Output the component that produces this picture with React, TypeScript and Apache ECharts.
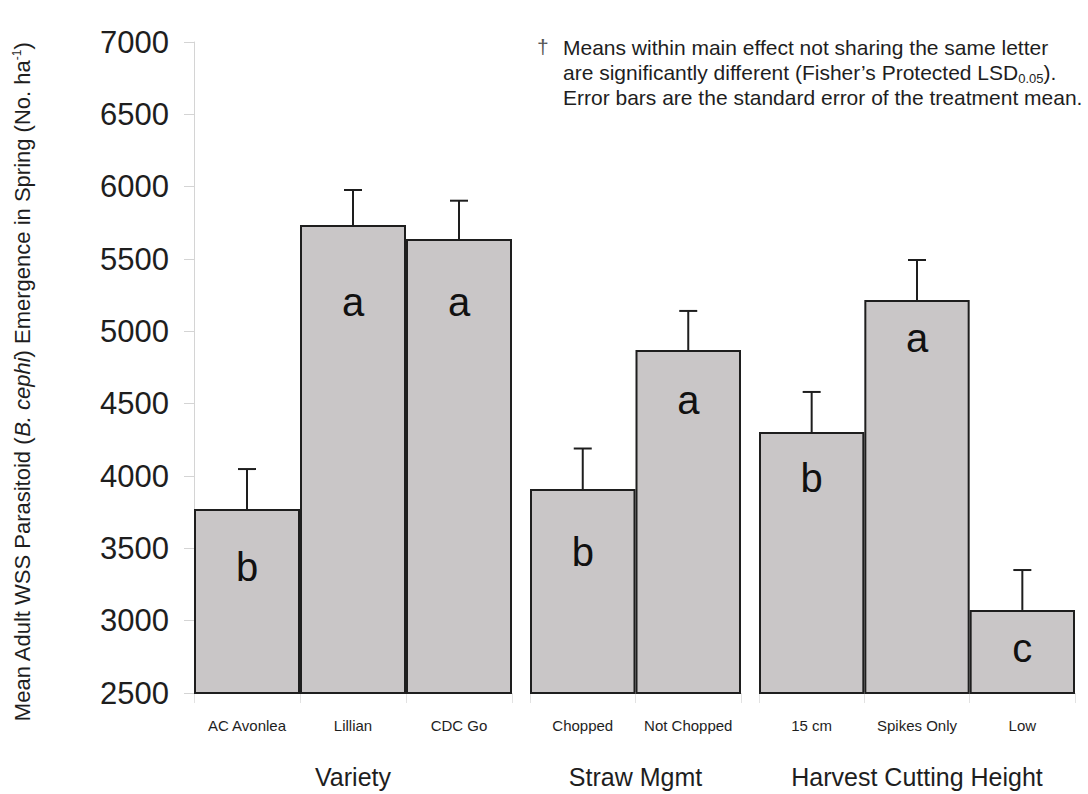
import React, { useEffect, useRef } from "react";
import * as echarts from "echarts";

// ---- data ----
const groupNames = ["Variety", "Straw Mgmt", "Harvest Cutting Height"];

const varietyCats = ["AC Avonlea", "Lillian", "CDC Go"];
const varietyMeans = [3772, 5735, 5638];
const varietyErrTop = [4048, 5977, 5903];
const varietyLetters = ["b", "a", "a"];
const varietyLetterY = [3370, 5200, 5200];

const strawCats = ["Chopped", "Not Chopped"];
const strawMeans = [3910, 4871];
const strawErrTop = [4190, 5141];
const strawLetters = ["b", "a"];
const strawLetterY = [3475, 4525];

const heightCats = ["15 cm", "Spikes Only", "Low"];
const heightMeans = [4304, 5217, 3074];
const heightErrTop = [4581, 5493, 3350];
const heightLetters = ["b", "a", "c"];
const heightLetterY = [3986, 4954, 2811];

const yMin = 2500;
const yMax = 7000;
const yInterval = 500;

const yTitle = "Mean Adult WSS Parasitoid ({i|B. cephi}) Emergence in Spring (No. ha{sup|-1})";
const noteLines = [
  "Means within main effect not sharing the same letter",
  "are significantly different (Fisher\u2019s Protected LSD{sub|0.05}).",
  "Error bars are the standard error of the treatment mean.",
];

const groups = [
  { cats: varietyCats, means: varietyMeans, errTop: varietyErrTop, letters: varietyLetters, letterY: varietyLetterY },
  { cats: strawCats, means: strawMeans, errTop: strawErrTop, letters: strawLetters, letterY: strawLetterY },
  { cats: heightCats, means: heightMeans, errTop: heightErrTop, letters: heightLetters, letterY: heightLetterY },
];

// ---- layout ----
const FONT = "'Liberation Sans', Arial, Helvetica, sans-serif";
const gridTop = 42;
const gridHeight = 651;
const gridBoxes = [
  { left: 194, width: 318 },
  { left: 530, width: 211 },
  { left: 759, width: 316 },
];
const barFill = "#c9c6c7";
const ink = "#1e1e1e";

export default function App() {
  const ref = useRef<HTMLDivElement>(null);

  useEffect(() => {
    if (!ref.current) return;
    const chart = echarts.init(ref.current, undefined, { renderer: "svg" });

    const grid = gridBoxes.map((g) => ({ left: g.left, width: g.width, top: gridTop, height: gridHeight }));

    const xAxis = groups.map((g, i) => ({
      type: "category" as const,
      gridIndex: i,
      data: g.cats,
      axisLine: { show: false },
      axisTick: { show: true, length: 10, lineStyle: { color: "#e2e2e2", width: 1 } },
      axisLabel: { color: ink, fontSize: 15, fontFamily: FONT, margin: 25, interval: 0 },
      splitLine: { show: false },
    }));

    const yAxis = groups.map((g, i) => ({
      type: "value" as const,
      gridIndex: i,
      min: yMin,
      max: yMax,
      interval: yInterval,
      show: i === 0,
      axisLine: { show: true, lineStyle: { color: "#d4d4d4", width: 1 } },
      axisTick: { show: true, length: 10, lineStyle: { color: "#d4d4d4", width: 1 } },
      axisLabel: {
        color: ink,
        fontSize: 31,
        fontFamily: FONT,
        margin: 25,
        formatter: (v: number) => String(v),
      },
      splitLine: { show: false },
    }));

    const series: any[] = [];
    groups.forEach((g, i) => {
      series.push({
        type: "bar",
        xAxisIndex: i,
        yAxisIndex: i,
        data: g.means,
        barCategoryGap: "0%",
        itemStyle: { color: barFill, borderColor: ink, borderWidth: 2 },
        z: 2,
      });
      series.push({
        type: "custom",
        xAxisIndex: i,
        yAxisIndex: i,
        z: 3,
        data: g.cats.map((_, k) => [k, g.means[k], g.errTop[k]]),
        renderItem: (params: any, api: any) => {
          const x = api.value(0);
          const p0 = api.coord([x, api.value(1)]);
          const p1 = api.coord([x, api.value(2)]);
          return {
            type: "group",
            children: [
              { type: "line", shape: { x1: p0[0], y1: p0[1], x2: p1[0], y2: p1[1] }, style: { stroke: ink, lineWidth: 2 } },
              { type: "line", shape: { x1: p1[0] - 9, y1: p1[1], x2: p1[0] + 9, y2: p1[1] }, style: { stroke: ink, lineWidth: 2 } },
            ],
          };
        },
      });
      series.push({
        type: "custom",
        xAxisIndex: i,
        yAxisIndex: i,
        z: 4,
        data: g.cats.map((_, k) => [k, g.letterY[k]]),
        renderItem: (params: any, api: any) => {
          const idx = params.dataIndex;
          const p = api.coord([api.value(0), api.value(1)]);
          return {
            type: "text",
            x: p[0],
            y: p[1],
            style: {
              text: g.letters[idx],
              fill: "#111",
              fontSize: 40,
              fontFamily: FONT,
              align: "center",
              verticalAlign: "middle",
            },
          };
        },
      });
    });

    const graphic: any[] = [];
    gridBoxes.forEach((b, i) => {
      graphic.push({
        type: "text",
        x: b.left + b.width / 2,
        y: 777,
        style: {
          text: groupNames[i],
          fill: ink,
          fontSize: 25,
          fontFamily: FONT,
          align: "center",
          verticalAlign: "middle",
        },
      });
    });
    graphic.push({
      type: "text",
      x: 22,
      y: 382,
      rotation: Math.PI / 2,
      style: {
        text: yTitle,
        fill: ink,
        fontSize: 22,
        fontFamily: FONT,
        align: "center",
        verticalAlign: "middle",
        rich: {
          i: { fontSize: 22, fontStyle: "italic", fontFamily: FONT, fill: ink },
          sup: { fontSize: 12, fontFamily: FONT, fill: ink, verticalAlign: "top", padding: [0, 0, 10, 0] },
        },
      },
    });
    graphic.push({
      type: "text",
      x: 537,
      y: 36,
      style: { text: "\u2020", fill: "#555", fontSize: 21, fontFamily: FONT },
    });
    graphic.push({
      type: "text",
      x: 563,
      y: 35,
      style: {
        text: noteLines.join("\n"),
        fill: ink,
        fontSize: 21,
        lineHeight: 25,
        fontFamily: FONT,
        rich: {
          sub: { fontSize: 13, fontFamily: FONT, fill: ink, verticalAlign: "bottom", lineHeight: 25, padding: [12, 0, 0, 0] },
        },
      },
    });

    chart.setOption({
      animation: false,
      backgroundColor: "#ffffff",
      grid,
      xAxis,
      yAxis,
      series,
      graphic,
    });

    return () => chart.dispose();
  }, []);

  return (
    <div
      ref={ref}
      style={{ position: "fixed", left: 0, top: 0, width: 1088, height: 794, background: "#fff" }}
    />
  );
}
